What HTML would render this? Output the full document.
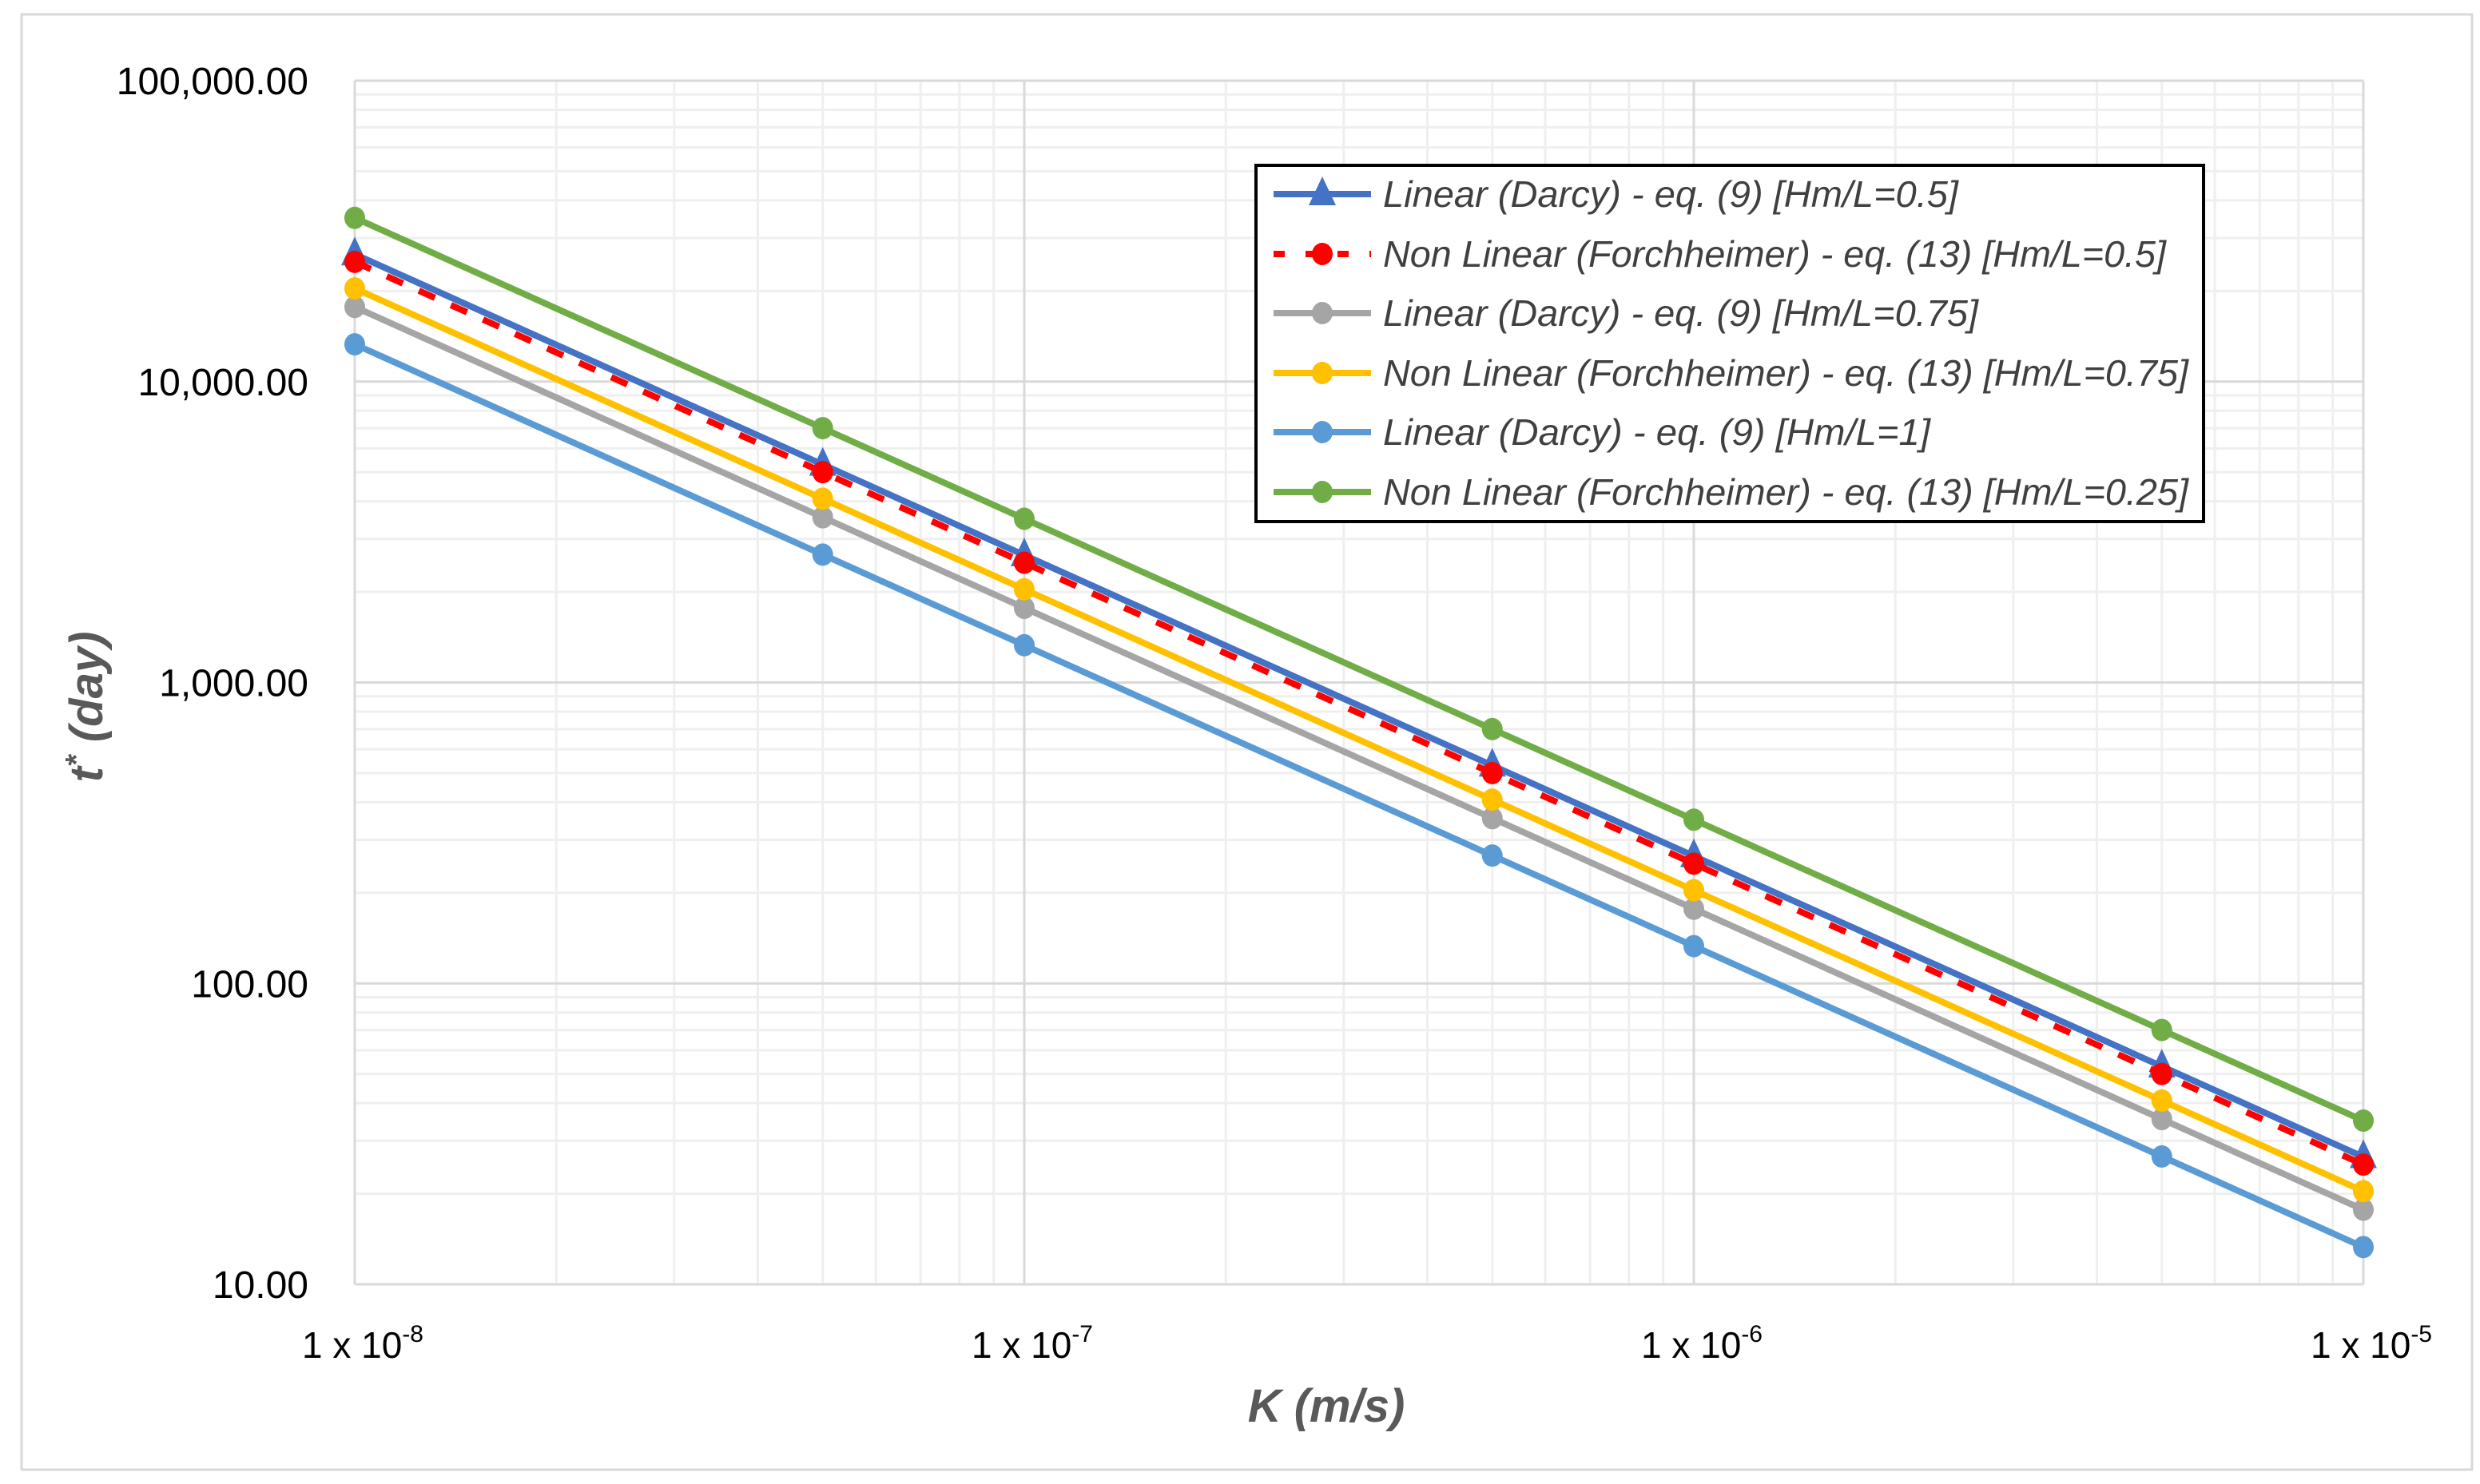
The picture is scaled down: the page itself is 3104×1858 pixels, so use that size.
<!DOCTYPE html>
<html><head><meta charset="utf-8"><style>
html,body{margin:0;padding:0;background:#fff;}
svg{display:block;}
text{font-family:"Liberation Sans",sans-serif;}
</style></head><body>
<svg id="chart" width="3104" height="1858" xmlns="http://www.w3.org/2000/svg">
<rect x="27" y="18" width="3067" height="1822" fill="#fff" stroke="#d9d9d9" stroke-width="3"/>
<g id="grid"></g>
<g id="axes"></g>
<g id="series"></g>
<text transform="translate(128,885) rotate(-90)" text-anchor="middle" font-size="58" font-weight="bold" font-style="italic" fill="#595959">t<tspan font-size="38" dy="-20">*</tspan><tspan dy="20"> (day)</tspan></text>
<text x="1660" y="1780" text-anchor="middle" font-size="58" font-weight="bold" font-style="italic" fill="#595959">K (m/s)</text>
<g id="legend"></g>
</svg>
<script>
const xValues = [1e-8, 5e-8, 1e-7, 5e-7, 1e-6, 5e-6, 1e-5];
const xTickValues = [1e-8, 1e-7, 1e-6, 1e-5];
const xTickExps = ["-8", "-7", "-6", "-5"];
const yTickValues = [100000, 10000, 1000, 100, 10];
const yTickLabels = ["100,000.00", "10,000.00", "1,000.00", "100.00", "10.00"];
const seriesNames = [
  "Linear (Darcy) - eq. (9) [Hm/L=0.5]",
  "Non Linear (Forchheimer) - eq. (13) [Hm/L=0.5]",
  "Linear (Darcy) - eq. (9) [Hm/L=0.75]",
  "Non Linear (Forchheimer) - eq. (13) [Hm/L=0.75]",
  "Linear (Darcy) - eq. (9) [Hm/L=1]",
  "Non Linear (Forchheimer) - eq. (13) [Hm/L=0.25]"
];
const darcy05 = [26500, 5300, 2650, 530, 265, 53, 26.5];
const forch05 = [25000, 5000, 2500, 500, 250, 50, 25];
const darcy075 = [17700, 3540, 1770, 354, 177, 35.4, 17.7];
const forch075 = [20400, 4080, 2040, 408, 204, 40.8, 20.4];
const darcy1 = [13300, 2660, 1330, 266, 133, 26.6, 13.3];
const forch025 = [35000, 7000, 3500, 700, 350, 70, 35];

const NS = "http://www.w3.org/2000/svg";
const L = 444, R = 2958, T = 101, B = 1608;
const xmin = -8, xmax = -5, ymin = 1, ymax = 5;
function xs(v){ return L + (Math.log10(v) - xmin) / (xmax - xmin) * (R - L); }
function ys(v){ return B - (Math.log10(v) - ymin) / (ymax - ymin) * (B - T); }
function mk(tag, attrs, parent){ const e = document.createElementNS(NS, tag); for (const k in attrs) e.setAttribute(k, attrs[k]); parent.appendChild(e); return e; }

const grid = document.getElementById('grid');
// minor grid
for (let d = xmin; d < xmax; d++) for (let m = 2; m <= 9; m++) {
  const x = xs(m * Math.pow(10, d));
  const ln = mk('line', {x1:x, x2:x, y1:T, y2:B, stroke:'#efefef', 'stroke-width':3}, grid);
  
  
}
for (let d = ymin; d < ymax; d++) for (let m = 2; m <= 9; m++) {
  const y = ys(m * Math.pow(10, d));
  const ln = mk('line', {x1:L, x2:R, y1:y, y2:y, stroke:'#efefef', 'stroke-width':3}, grid);
  
  
}
xTickValues.forEach(v => {
  const x = xs(v);
  const ln = mk('line', {x1:x, x2:x, y1:T, y2:B, stroke:'#d9d9d9', 'stroke-width':3}, grid);
  
  
});
yTickValues.forEach(v => {
  const y = ys(v);
  const ln = mk('line', {x1:L, x2:R, y1:y, y2:y, stroke:'#d9d9d9', 'stroke-width':3}, grid);
  
  
});

const axes = document.getElementById('axes');
yTickValues.forEach((v, i) => {
  const t = mk('text', {x:386, y:ys(v) + 17, 'text-anchor':'end', 'font-size':48, fill:'#000'}, axes);
  t.textContent = yTickLabels[i];
  
  
});
xTickValues.forEach((v, i) => {
  const t = mk('text', {x:xs(v) + 10, y:1700, 'text-anchor':'middle', 'font-size':46, fill:'#000'}, axes);
  t.appendChild(document.createTextNode('1 x 10'));
  const sp = document.createElementNS(NS, 'tspan');
  sp.setAttribute('font-size', '30'); sp.setAttribute('dy', '-20');
  sp.textContent = xTickExps[i];
  t.appendChild(sp);
  
  
});

const seriesData = [darcy05, forch05, darcy075, forch075, darcy1, forch025];
const colors = ['#4472C4', '#FF0000', '#A5A5A5', '#FFC000', '#5B9BD5', '#70AD47'];
const dashes = [null, '22,22', null, null, null, null];
const markers = ['tri', 'dot', 'dot', 'dot', 'dot', 'dot'];
const slugs = ['darcy-0-5', 'forchheimer-0-5', 'darcy-0-75', 'forchheimer-0-75', 'darcy-1', 'forchheimer-0-25'];
const order = [5, 4, 2, 3, 0, 1];
const sg = document.getElementById('series');
function marker(kind, x, y, c, parent){
  let e;
  if (kind === 'tri') e = mk('polygon', {points:`${x},${y-22} ${x-17},${y+14} ${x+17},${y+14}`, fill:c}, parent);
  else e = mk('ellipse', {cx:x, cy:y, rx:13, ry:14, fill:c}, parent);
  return e;
}
order.forEach(si => {
  const g = mk('g', {}, sg);
  
  
  const pts = xValues.map((xv, j) => xs(xv) + ',' + ys(seriesData[si][j])).join(' ');
  const pl = mk('polyline', {points:pts, fill:'none', stroke:colors[si], 'stroke-width':8, 'stroke-linejoin':'round'}, g);
  if (dashes[si]) pl.setAttribute('stroke-dasharray', dashes[si]);
  
  
  xValues.forEach((xv, j) => {
    const m = marker(markers[si], xs(xv), ys(seriesData[si][j]), colors[si], g);
    
    
  });
});

const lg = document.getElementById('legend');
const box = mk('rect', {x:1572, y:207, width:1186, height:446, fill:'#fff', stroke:'#000', 'stroke-width':4}, lg);


const rowY = [243, 318, 392, 467, 541, 616];
seriesNames.forEach((n, i) => {
  const g = mk('g', {}, lg);
  
  
  const y = rowY[i];
  const ln = mk('line', {x1:1594, x2:1716, y1:y, y2:y, stroke:colors[i], 'stroke-width':8}, g);
  if (dashes[i]) ln.setAttribute('stroke-dasharray', '14,26');
  marker(markers[i], 1655, y, colors[i], g);
  const tw = [720, 980, 745, 1008, 685, 1008][i];
  const t = mk('text', {x:1731, y:y + 16, 'font-size':46, 'font-style':'italic', fill:'#404040', textLength:tw, lengthAdjust:'spacingAndGlyphs'}, g);
  t.textContent = n;
});
</script>
</body></html>
